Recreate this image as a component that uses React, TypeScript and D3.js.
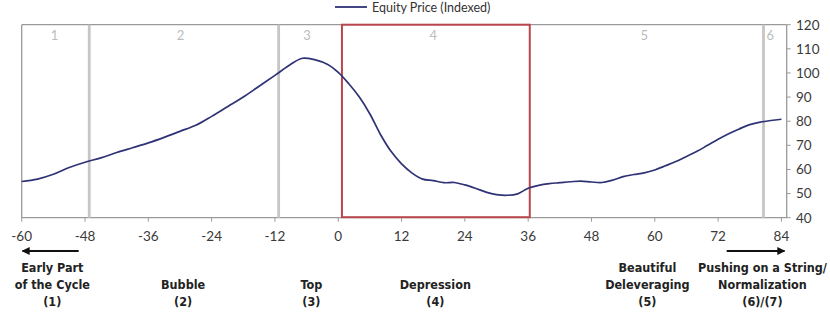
import React from "react";
import * as d3 from "d3";

const monthsX = [-60, -57, -54, -51, -48, -45, -42, -39, -36, -33, -30, -27, -24, -21, -18, -15, -12, -9, -6.8, -4.5, -2, 0, 2, 4, 6, 8, 10, 12, 14, 16, 18, 20, 22, 24, 26, 28, 30, 32, 34, 36, 38, 40, 42, 44, 46, 48, 50, 52, 54, 56, 58, 60, 62, 64, 66, 68, 70, 72, 74, 76, 78, 80, 82, 84];
const equityY = [55, 56, 58, 60.8, 63, 64.8, 67, 69, 71, 73.3, 75.8, 78.3, 82, 86, 90, 94.5, 99, 103.6, 106.1, 105.5, 103.5, 100.2, 95.5, 90, 83, 74.5, 67.5, 62.3, 58.5, 56, 55.4, 54.5, 54.6, 53.6, 52.2, 50.6, 49.6, 49.3, 49.9, 52.2, 53.4, 54.1, 54.5, 54.9, 55.2, 54.8, 54.6, 55.6, 57, 57.9, 58.6, 59.8, 61.5, 63.3, 65.4, 67.5, 70, 72.5, 74.8, 76.8, 78.6, 79.6, 80.3, 80.8];
const xTicks = [-60, -48, -36, -24, -12, 0, 12, 24, 36, 48, 60, 72, 84];
const yTicks = [40, 50, 60, 70, 80, 90, 100, 110, 120];
const phaseLines = [-47.2, -11.3, 80.6];
const phaseNumbers = ["1", "2", "3", "4", "5", "6"];
const phaseNumberX = [-53.8, -29.9, -5.9, 18, 58, 81.9];
const depressionBox = [0.7, 36.3];
const phaseLabels = [
  { lines: ["Early Part", "of the Cycle", "(1)"], x: -54.2 },
  { lines: ["Bubble", "(2)"], x: -29.4 },
  { lines: ["Top", "(3)"], x: -5.1 },
  { lines: ["Depression", "(4)"], x: 18.4 },
  { lines: ["Beautiful", "Deleveraging", "(5)"], x: 58.6 },
  { lines: ["Pushing on a String/", "Normalization", "(6)/(7)"], x: 80.4 },
];

export default function App() {
  const W = 830, H = 314;
  const x = d3.scaleLinear().domain([-60, 85]).range([21.7, 786.7]);
  const y = d3.scaleLinear().domain([40, 120]).range([217.7, 24.7]);
  const pts: [number, number][] = monthsX.map((m, i) => [m, equityY[i]]);
  const line = d3.line<[number, number]>().x(d => x(d[0])).y(d => y(d[1])).curve(d3.curveCatmullRom.alpha(0.5));
  const axisColor = "#9a9a9a";
  const tickFont = "Lato, 'Open Sans', sans-serif";
  const boldFont = "'DejaVu Sans Condensed', 'DejaVu Sans', sans-serif";
  const lineColor = "#2f3275";
  const lineY = [267.5, 284.5, 301.5];
  return (
    <svg width={W} height={H} style={{ position: "absolute", left: 0, top: 0, background: "#fff" }}>
      <defs>
        <marker id="ah" viewBox="0 0 10 10" refX="9" refY="5" markerWidth="4" markerHeight="4" orient="auto-start-reverse" markerUnits="strokeWidth">
          <path d="M0,0 L10,5 L0,10 Z" fill="#111" />
        </marker>
      </defs>
      <rect x={0} y={0} width={W} height={H} fill="#fff" />
      <line x1={335} x2={367} y1={7} y2={7} stroke={lineColor} strokeWidth={1.8} />
      <text x={372} y={11.5} fontFamily={tickFont} fontSize={12.5} fill="#333">Equity Price (Indexed)</text>
      <line x1={x(-60)} x2={x(85)} y1={y(120)} y2={y(120)} stroke={axisColor} strokeWidth={1.3} />
      <line x1={x(-60)} x2={x(-60)} y1={y(120)} y2={y(40)} stroke={axisColor} strokeWidth={1.3} />
      <line x1={x(85)} x2={x(85)} y1={y(120)} y2={y(40)} stroke={axisColor} strokeWidth={1.3} />
      <line x1={x(-60)} x2={x(85)} y1={y(40)} y2={y(40)} stroke={axisColor} strokeWidth={1.3} />
      {phaseLines.map((p, i) => (
        <line key={i} x1={x(p)} x2={x(p)} y1={y(120)} y2={y(40)} stroke="#c6c6c6" strokeWidth={2.8} />
      ))}
      <rect x={x(depressionBox[0])} y={y(120)} width={x(depressionBox[1]) - x(depressionBox[0])} height={y(40) - y(120) - 0.5} fill="none" stroke="#b8474d" strokeWidth={2} />
      {phaseNumbers.map((n, i) => (
        <text key={n} x={x(phaseNumberX[i])} y={40} textAnchor="middle" fontFamily={tickFont} fontSize={13} fill="#bcbcbc">{n}</text>
      ))}
      <path d={line(pts) || ""} fill="none" stroke={lineColor} strokeWidth={1.7} />
      {xTicks.map(t => (
        <g key={t}>
          <line x1={x(t)} x2={x(t)} y1={y(40)} y2={y(40) + 4} stroke={axisColor} strokeWidth={1} />
          <text x={x(t)} y={240.5} textAnchor="middle" fontFamily={tickFont} fontSize={13.5} fill="#3a3a3a">{t}</text>
        </g>
      ))}
      {yTicks.map(t => (
        <g key={t}>
          <line x1={x(85)} x2={x(85) + 4} y1={y(t)} y2={y(t)} stroke={axisColor} strokeWidth={1} />
          <text x={796} y={y(t) + 4.8} fontFamily={tickFont} fontSize={13.5} fill="#3a3a3a">{t}</text>
        </g>
      ))}
      <line x1={78.7} x2={22.5} y1={251} y2={251} stroke="#111" strokeWidth={2} markerEnd="url(#ah)" />
      <line x1={726.7} x2={784.5} y1={251} y2={251} stroke="#111" strokeWidth={2} markerEnd="url(#ah)" />
      {phaseLabels.map((pl, i) => {
        const offset = 3 - pl.lines.length;
        return (
          <text key={i} textAnchor="middle" fontFamily={boldFont} fontWeight="bold" fontSize={12.5} fill="#222">
            {pl.lines.map((ln, j) => (
              <tspan key={j} x={x(pl.x)} y={lineY[j + offset] + 4}>{ln}</tspan>
            ))}
          </text>
        );
      })}
    </svg>
  );
}
